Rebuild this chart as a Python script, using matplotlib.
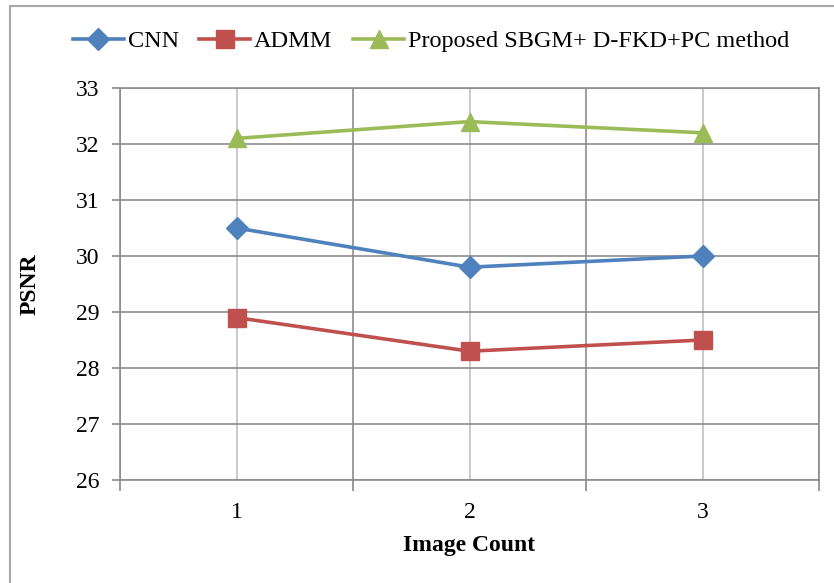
import matplotlib.pyplot as plt
from matplotlib.patches import Rectangle

plt.rcParams['font.family'] = ['Liberation Serif', 'DejaVu Serif']

image_count = [1, 2, 3]
cnn = [30.5, 29.8, 30.0]
admm = [28.9, 28.3, 28.5]
proposed = [32.1, 32.4, 32.2]

fig = plt.figure(figsize=(8.34, 5.83), dpi=100)

# outer chart border
fig.patches.append(Rectangle((10 / 834, -0.05), 1.0, 1 - 6 / 583 + 0.05,
                             transform=fig.transFigure, fill=False,
                             edgecolor='#a6a6a6', linewidth=1.5))

ax = fig.add_axes([120 / 834, 1 - 480 / 583, (819 - 120) / 834, (480 - 88) / 583])

ax.plot(image_count, cnn, color='#4F81BD', lw=2.6, marker='D', ms=11,
        label='CNN')
ax.plot(image_count, admm, color='#C0504D', lw=2.6, marker='s', ms=12.5,
        label='ADMM')
ax.plot(image_count, proposed, color='#9BBB59', lw=2.6, marker='^', ms=13,
        label='Proposed SBGM+ D-FKD+PC method')

ax.set_xlim(0.5, 3.5)
ax.set_ylim(26, 33)
ax.set_yticks(range(26, 34))

# category boundaries as major ticks, category labels on minor ticks
ax.set_xticks([0.5, 1.5, 2.5, 3.5])
ax.set_xticklabels([])
ax.set_xticks(image_count, minor=True)
ax.set_xticklabels([str(c) for c in image_count], minor=True)
ax.tick_params(axis='x', which='major', length=8, color='#888888', width=1.2)
ax.tick_params(axis='x', which='minor', length=0, labelsize=17, pad=16)
ax.tick_params(axis='y', length=6, color='#888888', width=1.2, labelsize=17, pad=9)

ax.grid(True, which='major', color='#8c8c8c', lw=1.2)
ax.grid(True, which='minor', axis='x', color='#c0c0c0', lw=1.2)
ax.set_axisbelow(True)
for s in ax.spines.values():
    s.set_color('#8c8c8c')
    s.set_linewidth(1.2)

ax.set_xlabel('Image Count', fontsize=17, fontweight='bold')
ax.set_ylabel('PSNR', fontsize=17, fontweight='bold')
ax.xaxis.set_label_coords(0.5, -(545 - 480) / 392, transform=ax.transAxes)
ax.yaxis.set_label_coords(-(120 - 30) / 699, 0.5, transform=ax.transAxes)
ax.xaxis.label.set_va('center')
ax.yaxis.label.set_va('center')

fig.legend(loc='center', bbox_to_anchor=(431 / 834, 1 - 41 / 583), ncol=3,
           frameon=False, fontsize=17.5, handlelength=2.1, handletextpad=0.15,
           columnspacing=0.85, borderpad=0, borderaxespad=0)

fig.savefig('out.png', dpi=100)
